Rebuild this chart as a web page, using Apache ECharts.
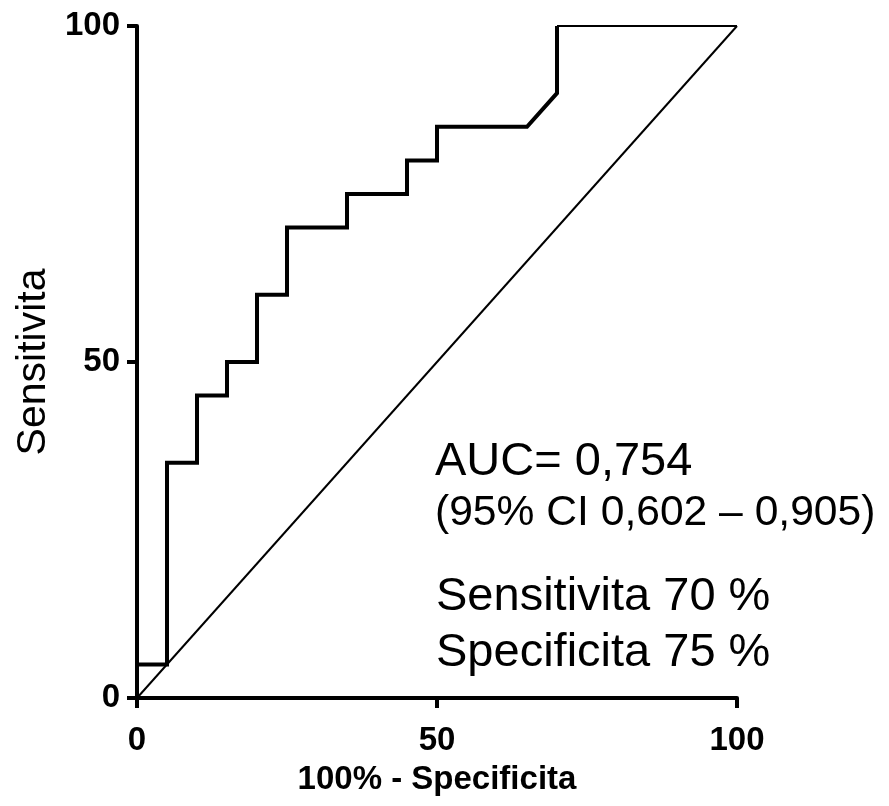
<!DOCTYPE html>
<html>
<head>
<meta charset="utf-8">
<script src="https://cdn.jsdelivr.net/npm/echarts@6/dist/echarts.min.js"></script>
<style>
html,body{margin:0;padding:0;background:#fff;}
#chart{width:889px;height:806px;}
</style>
</head>
<body>
<div id="chart"></div>
<script>
// ROC curve: [100% - Specificity, Sensitivity]
var rocCurve = [[0,0],[0,5],[5,5],[5,35],[10,35],[10,45],[15,45],[15,50],[20,50],[20,60],[25,60],[25,70],[35,70],[35,75],[45,75],[45,80],[50,80],[50,85],[65,85],[70,90],[70,100]];
var rocTail = [[70,100],[100,100]];
var referenceLine = [[0,0],[100,100]];
var xTicks = [0, 50, 100];
var yTicks = [0, 50, 100];
var annotations = ['AUC= 0,754', '(95% CI 0,602 \u2013 0,905)', 'Sensitivita 70 %', 'Specificita 75 %'];

var FONT = "'Liberation Sans', Arial, sans-serif";
var chart = echarts.init(document.getElementById('chart'), null, {renderer:'canvas'});
var axisCommon = {
  type: 'value', min: 0, max: 100, interval: 50,
  axisLine: {show: true, lineStyle: {color: '#000', width: 4}},
  axisTick: {show: true, length: 10, lineStyle: {color: '#000', width: 4}},
  splitLine: {show: false},
  nameLocation: 'middle'
};
chart.setOption({
  animation: false,
  backgroundColor: '#fff',
  grid: {left: 137, right: 152, top: 26, bottom: 108, containLabel: false},
  xAxis: Object.assign({}, axisCommon, {
    name: '100% - Specificita', nameGap: 65,
    nameTextStyle: {color: '#000', fontFamily: FONT, fontWeight: 'bold', fontSize: 33},
    axisLabel: {color: '#000', fontFamily: FONT, fontWeight: 'bold', fontSize: 33, margin: 26,
      formatter: function(v){ return xTicks.indexOf(v) >= 0 ? String(v) : ''; }}
  }),
  yAxis: Object.assign({}, axisCommon, {
    name: 'Sensitivita', nameGap: 76,
    nameTextStyle: {color: '#000', fontFamily: FONT, fontWeight: 'normal', fontSize: 41},
    axisLabel: {color: '#000', fontFamily: FONT, fontWeight: 'bold', fontSize: 33, margin: 17,
      formatter: function(v){ return yTicks.indexOf(v) >= 0 ? String(v) : ''; }}
  }),
  series: [
    {type: 'line', data: referenceLine, symbol: 'none', lineStyle: {color: '#000', width: 2}, z: 2},
    {type: 'line', data: rocTail, symbol: 'none', lineStyle: {color: '#000', width: 2}, z: 3},
    {type: 'line', data: rocCurve, symbol: 'none', lineStyle: {color: '#000', width: 4, join: 'miter'}, z: 4}
  ],
  graphic: [
    {type: 'text', x: 435, y: 462, style: {text: annotations[0], font: '47px ' + FONT, fill: '#000', verticalAlign: 'middle'}},
    {type: 'text', x: 435, y: 513, style: {text: annotations[1], font: '42.6px ' + FONT, fill: '#000', verticalAlign: 'middle'}},
    {type: 'text', x: 436, y: 597, style: {text: annotations[2], font: '47px ' + FONT, fill: '#000', verticalAlign: 'middle'}},
    {type: 'text', x: 436, y: 653, style: {text: annotations[3], font: '47px ' + FONT, fill: '#000', verticalAlign: 'middle'}}
  ]
});
</script>
</body>
</html>
